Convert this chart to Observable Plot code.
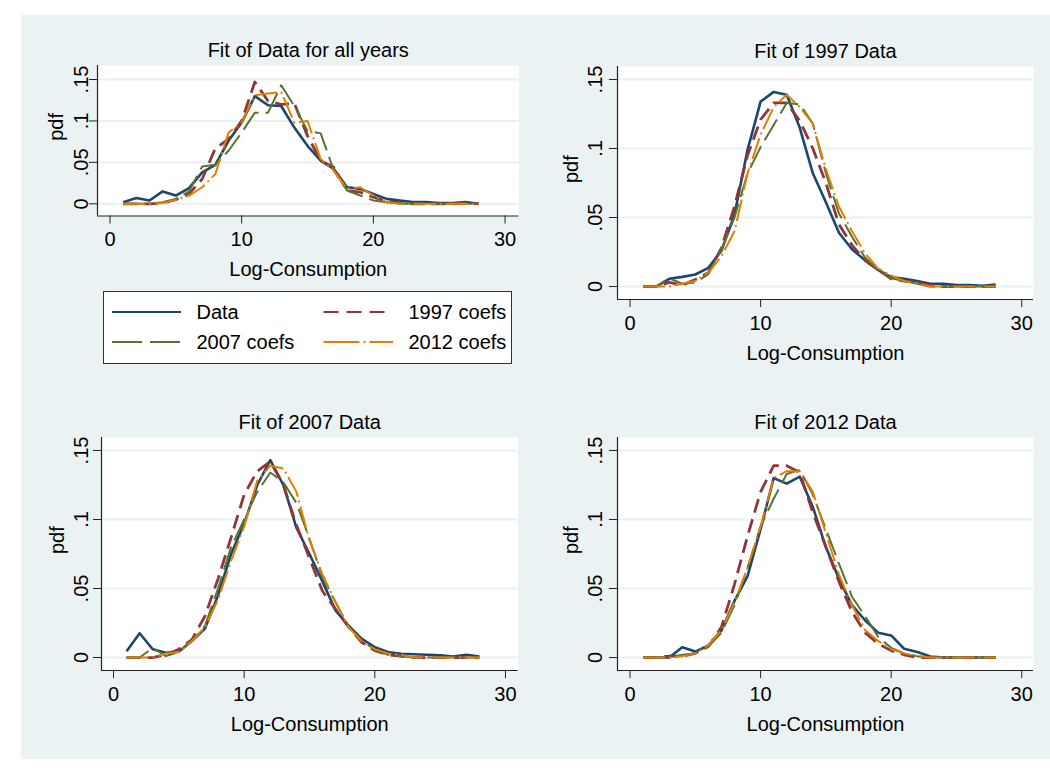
<!DOCTYPE html>
<html>
<head>
<meta charset="utf-8">
<script src="https://cdn.jsdelivr.net/npm/d3@7"></script>
<script src="https://cdn.jsdelivr.net/npm/@observablehq/plot@0.6"></script>
<style>
  html, body { margin: 0; padding: 0; background: #fff; }
  #root { position: relative; width: 1050px; height: 775px; overflow: hidden; background: #fff;
          font-family: "Liberation Sans", Arial, sans-serif; }
  #bg { position: absolute; left: 21px; top: 15px; width: 1029px; height: 744px; background: #EAF2F3; }
  svg { overflow: visible; }
</style>
</head>
<body>
<div id="root"><div id="bg"></div></div>
<script>
// ---------- data ----------
const xs = [1,2,3,4,5,6,7,8,9,10,11,12,13,14,15,16,17,18,19,20,21,22,23,24,25,26,27,28];
const xTicks = [0, 10, 20, 30];
const yTicks = [0, 0.05, 0.1, 0.15];
const yTickLabels = ["0", ".05", ".1", ".15"];
const seriesNames = ["Data", "1997 coefs", "2007 coefs", "2012 coefs"];
const panelTitles = ["Fit of Data for all years", "Fit of 1997 Data", "Fit of 2007 Data", "Fit of 2012 Data"];
const xLabel = "Log-Consumption";
const yLabel = "pdf";

// Panel: all years
const allData = [.002,.007,.004,.015,.010,.019,.038,.047,.076,.098,.130,.119,.118,.092,.070,.052,.042,.020,.018,.012,.006,.004,.002,.002,.001,.001,.002,.000];
const all1997 = [0,0,0,.001,.005,.012,.030,.067,.078,.100,.147,.124,.120,.121,.082,.052,.044,.016,.014,.008,.003,.001,0,0,0,0,.001,0];
const all2007 = [0,0,0,.002,.006,.015,.045,.047,.064,.086,.110,.110,.143,.118,.088,.085,.040,.016,.010,.004,.002,0,0,0,0,0,0,0];
const all2012 = [0,0,0,.001,.005,.010,.020,.036,.086,.098,.131,.133,.135,.098,.100,.054,.040,.018,.020,.010,.002,0,0,0,0,0,0,0];

// Panel: 1997
const y97Data = [0,0,.0056,.007,.0087,.0135,.026,.052,.099,.134,.141,.139,.115,.082,.061,.039,.027,.019,.012,.0068,.0056,.0039,.002,.002,.001,.001,.0005,.0015];
const y97_1997 = [0,0,.003,.001,.005,.010,.028,.058,.095,.121,.133,.133,.120,.100,.075,.045,.030,.019,.012,.0056,.004,.003,.001,0,0,0,0,0];
const y97_2007 = [0,0,.006,.002,.003,.009,.027,.050,.082,.101,.117,.133,.132,.118,.082,.053,.036,.021,.012,.006,.004,.002,0,0,0,0,0,0];
const y97_2012 = [0,0,0,.002,.004,.010,.022,.040,.082,.110,.130,.139,.130,.118,.085,.058,.040,.024,.013,.008,.004,.002,0,0,0,0,0,0];

// Panel: 2007
const y07Data = [.0046,.0176,.006,.0034,.0043,.012,.021,.045,.075,.097,.125,.143,.125,.094,.075,.055,.034,.023,.0135,.0075,.004,.0027,.0024,.002,.0017,.0007,.002,.0007];
const y07_1997 = [0,0,0,.002,.006,.013,.030,.057,.087,.118,.135,.142,.125,.096,.072,.048,.035,.022,.011,.005,.002,.001,0,0,0,0,0,0];
const y07_2007 = [0,0,.007,.001,.004,.012,.023,.050,.080,.100,.120,.134,.127,.112,.086,.058,.040,.022,.012,.006,.002,.001,0,0,0,0,0,0];
const y07_2012 = [0,0,0,.003,.004,.012,.022,.042,.070,.095,.128,.139,.137,.120,.085,.060,.040,.022,.012,.006,.003,.002,0,0,0,0,0,0];

// Panel: 2012
const y12Data = [0,0,0,.0075,.0043,.0087,.0196,.041,.059,.093,.130,.126,.131,.109,.080,.057,.038,.027,.018,.016,.0063,.004,.0007,0,0,0,0,0];
const y12_1997 = [0,0,.001,.001,.003,.008,.022,.053,.088,.120,.139,.139,.134,.105,.080,.055,.033,.018,.010,.005,.002,0,0,0,0,0,0,0];
const y12_2007 = [0,0,0,.002,.003,.008,.018,.038,.065,.095,.115,.133,.136,.118,.093,.068,.044,.030,.015,.007,.003,.001,0,0,0,0,0,0];
const y12_2012 = [0,0,0,.001,.003,.009,.020,.040,.065,.095,.130,.135,.135,.120,.090,.060,.038,.020,.012,.006,.003,.001,0,0,0,0,0,0];

// ---------- styles ----------
const colors = ["#1A476F", "#90353B", "#55752F", "#E37E00"];
const widths = [2.6, 2.8, 2, 2];
const dashes = [null, "14,7", "24,7", "22,4,2,4"];
const legendDashes = [null, "15,8", "30,8", "36,4,2,4"];
const axisColor = "#222";
const gridColor = "#E8F0F2";
const fontFamily = "'Liberation Sans', Arial, sans-serif";

const root = document.getElementById("root");

function panel(cfg) {
  const mL = 80, mR = 12, mT = 40, mB = 75;
  const [x0, y0, x1, y1] = cfg.frame;
  const fw = x1 - x0, fh = y1 - y0;
  const rows = vals => xs.map((x, i) => ({x, y: vals[i]}));
  const lines = cfg.series.map((vals, i) =>
    Plot.line(rows(vals), {
      x: "x", y: "y", stroke: colors[i], strokeWidth: widths[i],
      strokeDasharray: dashes[i] || undefined, strokeLinejoin: "round", strokeLinecap: "butt"
    }));
  const chart = Plot.plot({
    width: fw + mL + mR, height: fh + mT + mB,
    marginLeft: mL, marginRight: mR, marginTop: mT, marginBottom: mB,
    style: {background: "transparent", fontFamily, fontSize: "20px", color: "#000", overflow: "visible"},
    x: {domain: cfg.xDomain},
    y: {domain: cfg.yDomain},
    marks: [
      Plot.frame({fill: "white", stroke: "none"}),
      Plot.gridY(yTicks, {stroke: gridColor, strokeOpacity: 1, strokeWidth: 2}),
      ...lines,
      Plot.ruleX([cfg.xDomain[0]], {stroke: axisColor, strokeWidth: 1.2}),
      Plot.ruleY([cfg.yDomain[0]], {stroke: axisColor, strokeWidth: 1.2}),
      Plot.axisX(xTicks, {tickSize: 8, tickPadding: 8, tickFormat: d => String(d), label: null, stroke: axisColor, fill: "#000"}),
      Plot.axisY(yTicks, {tickSize: 8, tickPadding: cfg.yPad, tickRotate: -90, tickFormat: d => yTickLabels[yTicks.indexOf(d)], label: null, stroke: axisColor, fill: "#000"}),
      Plot.text([cfg.title], {text: d => d, frameAnchor: "top", lineAnchor: "middle", dy: -14.5, fontSize: 20, fill: "#000"}),
      Plot.text([xLabel], {text: d => d, frameAnchor: "bottom", lineAnchor: "middle", dy: 54, fontSize: 20, fill: "#000"}),
      Plot.text([yLabel], {text: d => d, frameAnchor: "left", lineAnchor: "middle", dx: cfg.pdfDx, rotate: -90, fontSize: 20, fill: "#000"})
    ]
  });
  chart.style.position = "absolute";
  chart.style.left = (x0 - mL) + "px";
  chart.style.top = (y0 - mT) + "px";
  root.appendChild(chart);
}

panel({title: panelTitles[0], frame: [96.5, 65, 518, 215.5], xDomain: [-0.95, 31.06], yDomain: [-0.0147, 0.1669],
       series: [allData, all1997, all2007, all2012], pdfDx: -41, yPad: 2});
panel({title: panelTitles[1], frame: [617, 66, 1033, 299], xDomain: [-0.96, 30.9], yDomain: [-0.0094, 0.1594],
       series: [y97Data, y97_1997, y97_2007, y97_2012], pdfDx: -46, yPad: 7.5});
panel({title: panelTitles[2], frame: [101, 437, 517.5, 670], xDomain: [-0.92, 30.96], yDomain: [-0.0094, 0.1594],
       series: [y07Data, y07_1997, y07_2007, y07_2012], pdfDx: -44, yPad: 6});
panel({title: panelTitles[3], frame: [617, 437, 1033, 670], xDomain: [-0.96, 30.9], yDomain: [-0.0094, 0.1594],
       series: [y12Data, y12_1997, y12_2007, y12_2012], pdfDx: -46, yPad: 7.5});

// ---------- legend ----------
const lg = d3.select(root).append("svg")
  .attr("width", 409).attr("height", 73)
  .style("position", "absolute").style("left", "102.5px").style("top", "291px")
  .style("font-family", fontFamily).style("font-size", "20px");
lg.append("rect").attr("x", 0.5).attr("y", 0.5).attr("width", 408).attr("height", 72)
  .attr("fill", "white").attr("stroke", "#333").attr("stroke-width", 1);
const legendPos = [
  {lx0: 9, lx1: 78, tx: 93.5, y: 21},
  {lx0: 220.5, lx1: 283, tx: 305.5, y: 21},
  {lx0: 9, lx1: 78, tx: 93.5, y: 51},
  {lx0: 220.5, lx1: 290, tx: 305.5, y: 51}
];
seriesNames.forEach((name, i) => {
  const p = legendPos[i];
  lg.append("line").attr("x1", p.lx0).attr("x2", p.lx1).attr("y1", p.y).attr("y2", p.y)
    .attr("stroke", colors[i]).attr("stroke-width", 2.2)
    .attr("stroke-dasharray", legendDashes[i]);
  lg.append("text").attr("x", p.tx).attr("y", p.y).attr("dy", "0.35em").attr("fill", "#000").text(name);
});
</script>
</body>
</html>
